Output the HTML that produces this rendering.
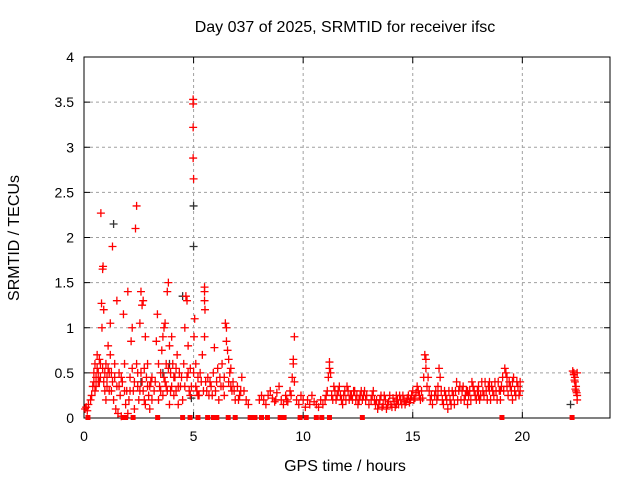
<!DOCTYPE html>
<html><head><meta charset="utf-8"><style>
body{margin:0;background:#fff;}
svg{display:block;font-family:"Liberation Sans",sans-serif;}
</style></head><body>
<svg id="chart" width="640" height="480" viewBox="0 0 640 480" xmlns="http://www.w3.org/2000/svg">
<rect width="640" height="480" fill="#fff"/>
<text x="345" y="32" font-size="16" text-anchor="middle">Day 037 of 2025, SRMTID for receiver ifsc</text>
<text x="0" y="0" font-size="16" text-anchor="middle" transform="translate(19,238) rotate(-90)">SRMTID / TECUs</text>
<text x="345" y="471" font-size="16" text-anchor="middle">GPS time / hours</text>
<g id="grid"></g><g id="axes"></g><g id="marks"></g>
</svg>
<script>
const xTicks=[0,5,10,15,20];
const yTicks=[0,0.5,1,1.5,2,2.5,3,3.5,4];
const yTickLabels=["0","0.5","1","1.5","2","2.5","3","3.5","4"];
const redPts=[[0.05,0.1],[0.1,0.12],[0.15,0.08],[0.2,0.15],[0.3,0.2],[0.35,0.25],[0.4,0.35],[0.45,0.4],[0.45,0.5],[0.5,0.3],[0.5,0.6],[0.55,0.45],[0.6,0.55],[0.6,0.7],[0.65,0.5],[0.7,0.4],[0.7,0.65],[0.75,0.6],[0.77,2.27],[0.8,1.27],[0.82,1.0],[0.85,1.65],[0.87,1.68],[0.85,0.55],[0.9,1.2],[0.95,0.5],[0.95,0.3],[1.0,0.6],[1.0,0.2],[1.05,0.45],
[1.1,0.55],[1.1,0.8],[1.15,0.3],[1.2,1.05],[1.2,0.7],[1.25,0.5],[1.3,1.9],[1.3,0.4],[1.35,0.2],[1.4,0.6],[1.45,0.1],[1.5,0.35],[1.5,1.3],[1.55,0.05],[1.6,0.5],[1.65,0.25],[1.7,0.02],[1.75,0.4],[1.8,1.15],[1.85,0.6],[1.9,0.15],[1.95,0.3],[2.0,1.4],[2.0,0.05],
[2.05,0.2],[2.1,0.45],[2.15,0.85],[2.2,1.0],[2.25,0.3],[2.3,0.1],[2.35,2.1],[2.4,2.35],[2.4,0.6],[2.45,0.35],[2.5,0.2],[2.55,1.05],[2.6,1.4],[2.6,0.5],[2.65,1.25],[2.7,1.3],[2.7,0.3],[2.75,0.55],[2.8,0.9],[2.8,0.15],[2.85,0.45],[2.9,0.6],[2.95,0.25],[3.0,0.35],[3.0,0.1],
[3.05,0.4],[3.1,0.2],[3.2,0.3],[3.3,0.85],[3.35,1.15],[3.4,0.6],[3.45,0.35],[3.5,0.5],[3.55,0.75],[3.6,0.9],[3.6,0.25],[3.65,1.0],[3.7,0.4],[3.7,1.05],[3.75,0.6],[3.8,1.4],[3.8,0.3],[3.85,1.5],[3.9,0.8],[3.9,0.15],[3.95,0.5],[4.0,0.35],[4.0,0.9],[4.05,0.6],
[4.1,0.25],[4.15,0.45],[4.2,0.3],[4.25,0.7],[4.3,0.15],[4.35,0.5],[4.4,0.35],[4.5,0.2],[4.55,0.6],[4.6,1.0],[4.65,1.35],[4.7,1.3],[4.7,0.45],[4.75,0.8],[4.8,0.3],[4.85,0.55],[4.9,0.35],[4.98,3.53],[4.98,3.48],[4.98,3.22],[4.98,2.88],[5.0,2.65],[5.02,0.9],[5.0,0.5],
[5.05,1.1],[5.1,0.6],[5.15,0.3],[5.2,0.45],[5.25,0.25],[5.3,0.5],[5.4,0.7],[5.5,1.45],[5.5,1.4],[5.5,1.3],[5.52,1.2],[5.5,0.9],[5.55,0.4],[5.6,0.3],[5.7,0.25],[5.8,0.35],[5.9,0.5],[5.95,0.78],
[6.0,0.3],[6.1,0.55],[6.15,0.2],[6.2,0.45],[6.3,0.6],[6.35,0.35],[6.4,0.25],[6.45,1.05],[6.5,1.0],[6.5,0.85],[6.55,0.75],[6.6,0.65],[6.65,0.5],[6.7,0.55],[6.75,0.3],[6.8,0.4],[6.9,0.2],[7.0,0.35],[7.1,0.25],[7.2,0.45],[7.3,0.3],[7.4,0.2],[7.5,0.15],
[8.0,0.2],[8.1,0.25],[8.3,0.15],[8.5,0.3],[8.6,0.22],[8.7,0.18],[8.8,0.28],[8.9,0.35],[9.0,0.2],[9.1,0.15],[9.2,0.25],[9.3,0.18],[9.4,0.3],[9.5,0.45],[9.55,0.6],[9.55,0.65],[9.6,0.9],[9.6,0.4],[9.7,0.2],[9.8,0.15],[9.9,0.25],[10.0,0.2],[10.1,0.12],[10.3,0.15],[10.4,0.25],[10.5,0.18],[10.7,0.12],[10.8,0.2],[10.9,0.15],
[11.0,0.2],[11.1,0.3],[11.15,0.45],[11.2,0.62],[11.2,0.55],[11.25,0.5],[11.3,0.25],[11.4,0.35],[11.5,0.2],[11.6,0.3],[11.7,0.25],[11.8,0.15],[11.9,0.3],[12.0,0.35],[12.1,0.2],[12.2,0.25],[12.3,0.3],[12.4,0.2],[12.5,0.15],[12.6,0.25],[12.7,0.2],[12.8,0.3],[12.9,0.25],[13.0,0.15],
[13.1,0.2],[13.2,0.3],[13.3,0.15],[13.4,0.1],[13.5,0.2],[13.6,0.12],[13.7,0.25],[13.8,0.1],[13.9,0.18],[14.0,0.15],[14.1,0.22],[14.2,0.12],[14.3,0.2],[14.4,0.25],[14.5,0.15],[14.6,0.2],[14.7,0.18],[14.8,0.25],[14.9,0.2],[15.0,0.3],[15.1,0.22],[15.2,0.35],[15.3,0.25],[15.4,0.3],
[15.5,0.45],[15.55,0.7],[15.6,0.65],[15.6,0.55],[15.65,0.35],[15.7,0.45],[15.8,0.2],[15.9,0.15],[16.0,0.25],[16.1,0.2],[16.15,0.35],[16.2,0.55],[16.25,0.45],[16.3,0.3],[16.4,0.15],[16.5,0.25],[16.6,0.1],[16.7,0.2],[16.8,0.3],[16.9,0.15],[17.0,0.4],[17.1,0.3],[17.2,0.2],
[17.3,0.35],[17.4,0.25],[17.5,0.15],[17.6,0.3],[17.7,0.4],[17.8,0.3],[17.9,0.2],[18.0,0.35],[18.1,0.25],[18.2,0.3],[18.3,0.4],[18.4,0.2],[18.5,0.3],[18.6,0.35],[18.7,0.25],[18.8,0.3],[18.9,0.4],[19.0,0.3],[19.1,0.45],[19.2,0.55],[19.25,0.5],[19.3,0.35],[19.4,0.4],[19.5,0.3],[19.6,0.45],[19.7,0.25],[19.8,0.35],[19.9,0.3],
[22.3,0.52],[22.35,0.5],[22.4,0.45],[22.4,0.4],[22.45,0.35],[22.45,0.3],[22.5,0.25],[22.5,0.2],[22.35,0.48],[22.5,0.5]];
const redPtsExtra=[[11.05,0.25],[11.35,0.2],[11.45,0.3],[11.55,0.25],[11.65,0.35],[11.75,0.2],[11.85,0.25],[11.95,0.2],[12.05,0.3],[12.15,0.25],[12.25,0.2],[12.35,0.3],[12.45,0.25],[12.55,0.2],[12.65,0.3],[12.75,0.25],[13.25,0.2],[13.45,0.15],[13.55,0.25],[13.65,0.15],[13.75,0.2],[13.85,0.15],[13.95,0.25],[14.05,0.12],[14.15,0.18],[14.25,0.25],[14.35,0.15],[14.45,0.2],[14.55,0.25],[14.65,0.15],[14.75,0.22],[14.85,0.17],[14.95,0.25],[15.05,0.2],[15.15,0.28],[15.25,0.3],[15.35,0.2],[16.05,0.3],[16.35,0.2],[16.45,0.3],[16.55,0.2],[16.65,0.3],[16.75,0.15],[16.85,0.25],[16.95,0.3],[17.05,0.2],[17.15,0.35],[17.25,0.3],[17.35,0.2],[17.45,0.3],[17.55,0.25],[17.65,0.2],[17.75,0.35],[17.85,0.25],[17.95,0.3],[18.05,0.2],[18.15,0.4],[18.25,0.25],[18.35,0.3],[18.45,0.35],[18.55,0.2],[18.65,0.3],[18.75,0.4],[18.85,0.2],[18.95,0.3],[19.05,0.35],[19.15,0.3],[19.35,0.25],[19.45,0.35],[19.55,0.2],[19.65,0.3],[19.75,0.4],[19.85,0.25],[8.2,0.2],[8.4,0.25],[8.75,0.2],[9.25,0.2],[9.45,0.25],[10.2,0.2],[10.6,0.15]];
const redPtsDense=[[0.55,0.35],[0.65,0.4],[0.75,0.45],[0.9,0.4],[1.05,0.35],[1.15,0.5],[1.25,0.3],[1.4,0.45],[1.6,0.35],[1.7,0.45],[1.85,0.3],[2.1,0.3],[2.2,0.55],[2.3,0.4],[2.45,0.5],[2.55,0.3],[2.65,0.4],[2.75,0.2],[2.9,0.35],[3.1,0.45],[3.25,0.4],[3.4,0.2],[3.5,0.3],[3.65,0.45],[3.75,0.35],[3.85,0.55],[3.95,0.3],[4.1,0.45],[4.2,0.55],[4.3,0.35],[4.45,0.45],[4.6,0.35],[4.75,0.5],[4.85,0.25],[5.1,0.35],[5.2,0.25],[5.35,0.4],[5.45,0.3],[5.65,0.45],[5.75,0.4],[5.85,0.25],[6.05,0.4],[6.25,0.35],[6.4,0.45],[6.6,0.4],[6.7,0.35],[6.85,0.3],[7.05,0.2],[7.15,0.3],[12.85,0.2],[13.15,0.25],[13.35,0.2],[14.25,0.15],[15.45,0.22],[15.75,0.3],[15.85,0.25],[16.15,0.25],[17.5,0.3],[18.0,0.25],[18.5,0.4],[19.0,0.2],[19.3,0.45],[19.55,0.4],[19.9,0.4],[22.42,0.32],[22.38,0.42],[22.48,0.28]];
const blackPts=[[1.35,2.15],[5.0,2.35],[5.0,1.9],[22.2,0.15],[3.9,0.6],[4.5,1.35],[2.6,0.4],[3.6,0.5],[4.9,0.22]];
const zeroTimes=[0.18,1.8,1.9,2.24,3.36,4.5,4.84,5.2,5.64,5.9,6.06,6.58,6.9,7.58,7.8,8.1,8.37,8.95,9.13,9.86,10.14,10.6,10.85,11.2,12.7,19.07,22.27];

const X0=84,X1=610,Y0=418,Y1=57,XMAX=24,YMAX=4;
const xs=h=>X0+h*(X1-X0)/XMAX;
const ys=v=>Y0-v*(Y0-Y1)/YMAX;
const NS="http://www.w3.org/2000/svg";
function mk(tag,attrs,parent){const e=document.createElementNS(NS,tag);for(const k in attrs)e.setAttribute(k,attrs[k]);parent.appendChild(e);return e;}
const grid=document.getElementById('grid'),axes=document.getElementById('axes'),marks=document.getElementById('marks');
yTicks.forEach((v,i)=>{
  const y=ys(v);
  if(v>0&&v<YMAX){const g=mk('line',{x1:X0,x2:X1,y1:y,y2:y,stroke:'#a0a0a0','stroke-dasharray':'3,3'},grid);
  
  }
  mk('line',{x1:X0,x2:X0+6,y1:y,y2:y,stroke:'#000'},axes);
  mk('line',{x1:X1,x2:X1-6,y1:y,y2:y,stroke:'#000'},axes);
  const t=mk('text',{x:X0-10,y:y+5,'font-size':14,'text-anchor':'end'},axes);
  t.textContent=yTickLabels[i];
  
  
});
xTicks.forEach(h=>{
  const x=xs(h);
  if(h>0){const g=mk('line',{x1:x,x2:x,y1:Y0,y2:Y1,stroke:'#a0a0a0','stroke-dasharray':'3,3'},grid);
  
  }
  mk('line',{x1:x,x2:x,y1:Y0,y2:Y0-6,stroke:'#000'},axes);
  mk('line',{x1:x,x2:x,y1:Y1,y2:Y1+6,stroke:'#000'},axes);
  const t=mk('text',{x:x,y:Y0+23,'font-size':14,'text-anchor':'middle'},axes);
  t.textContent=String(h);
  
  
});
const box=mk('rect',{x:X0,y:Y1,width:X1-X0,height:Y0-Y1,fill:'none',stroke:'#000'},axes);


function plus(h,v,color,name){
  const x=xs(h),y=ys(v);
  const p=mk('path',{d:`M${x-4},${y}H${x+4}M${x},${y-4}V${y+4}`,stroke:color,'stroke-width':1.3,fill:'none'},marks);
  
  
}
blackPts.forEach(p=>plus(p[0],p[1],'#333','black-point'));
redPts.forEach(p=>plus(p[0],p[1],'#ff0000','red-point'));
redPtsExtra.forEach(p=>plus(p[0],p[1],'#ff0000','red-point'));
redPtsDense.forEach(p=>plus(p[0],p[1],'#ff0000','red-point'));
zeroTimes.forEach(h=>{
  const r=mk('rect',{x:xs(h)-2.5,y:ys(0)-3,width:5,height:5,fill:'#ff0000'},marks);
  
  
});
</script>
</body></html>
